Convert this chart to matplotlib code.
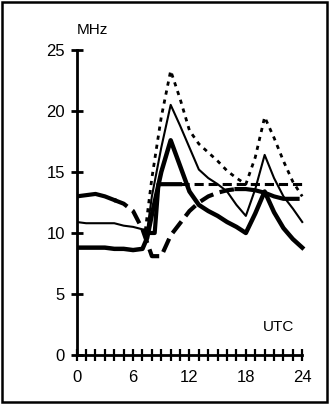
import matplotlib
matplotlib.use("Agg")
import matplotlib.pyplot as plt
from matplotlib.patches import Rectangle

plt.rcParams['font.family'] = ['Liberation Sans', 'DejaVu Sans']

# --- dades llegides del gràfic ---
hores = [0, 1, 2, 3, 4, 5, 6, 7, 7.5, 8, 9, 10, 11, 12, 13, 14, 15, 16,
         17, 18, 19, 20, 21, 22, 23, 24]

# corba gruixuda contínua (la més baixa)
gruixuda = [8.8, 8.8, 8.8, 8.8, 8.7, 8.7, 8.6, 8.7, 9.6, 11.5, 15.0, 17.6,
            15.5, 13.4, 12.3, 11.8, 11.4, 10.9, 10.5, 10.0, 11.6, 13.4,
            11.7, 10.4, 9.5, 8.8]

# corba fina contínua
fina = [10.9, 10.8, 10.8, 10.8, 10.8, 10.6, 10.5, 10.3, 10.2, 13.0, 17.0,
        20.5, 18.8, 17.0, 15.2, 14.5, 14.0, 13.4, 12.3, 11.4, 13.6, 16.4,
        14.5, 13.0, 12.0, 10.9]

# corba puntejada (la més alta)
punts_h = [7.3, 8, 9, 10, 11, 12, 13, 14, 15, 16, 17, 18, 19, 20, 21, 22,
           23, 24]
punts = [10.2, 14.5, 19.5, 23.3, 21.0, 18.4, 17.3, 16.6, 15.9, 15.1, 14.5,
         14.0, 16.2, 19.5, 17.8, 15.9, 14.2, 13.0]

# corba gruixuda discontínua (13 MHz a l'inici)
disc_h = [0, 1, 2, 3, 4, 5, 6, 7, 7.5, 8, 9, 10, 11, 12, 13, 14, 15, 16,
          17, 18, 19, 20, 21, 22, 23, 23.5]
disc = [13.0, 13.1, 13.2, 13.0, 12.7, 12.4, 11.8, 10.3, 9.2, 8.1, 8.1,
        9.8, 10.8, 11.8, 12.5, 13.0, 13.3, 13.5, 13.6, 13.6, 13.5, 13.3,
        13.0, 12.8, 12.8, 12.8]

# esglaó a 14 MHz
esglao_h = [7.4, 8.3, 8.7, 11, 24]
esglao = [10.0, 10.0, 14.0, 14.0, 14.0]

fig = plt.figure(figsize=(3.29, 4.04), dpi=100)
ax = fig.add_axes([0.2331, 0.1213, 0.697, 0.755])

# trams sòlids i discontinus de la corba de 13 MHz
i4 = disc_h.index(4)
i17 = disc_h.index(17)
ax.plot(disc_h[:i4 + 1], disc[:i4 + 1], color="black", lw=3)
ax.plot(disc_h[i4:i17 + 1], disc[i4:i17 + 1], color="black", lw=3,
        linestyle=(0, (3.5, 1.6)))
ax.plot(disc_h[i17:], disc[i17:], color="black", lw=3)

ax.plot(esglao_h[:4], esglao[:4], color="black", lw=3)
ax.plot(esglao_h[3:], esglao[3:], color="black", lw=2.2,
        linestyle=(0, (3, 1.6)))
ax.plot(punts_h, punts, color="black", lw=2, linestyle=(0, (1.5, 1.8)))
ax.plot(hores, fina, color="black", lw=1.5)
ax.plot(hores, gruixuda, color="black", lw=3.2)

ax.set_xlim(0, 24.4)
ax.set_ylim(0, 25)
for s in ["top", "right"]:
    ax.spines[s].set_visible(False)
ax.spines["left"].set_linewidth(2)
ax.spines["bottom"].set_linewidth(2)
ax.spines["left"].set_bounds(0, 25)
ax.spines["bottom"].set_bounds(0, 24)

ax.set_yticks([0, 5, 10, 15, 20, 25])
ax.set_xticks(range(0, 25))
ax.set_xticklabels([str(h) if h % 6 == 0 else "" for h in range(25)])
ax.tick_params(axis="y", direction="inout", length=9, width=2, pad=4,
               labelsize=12)
ax.tick_params(axis="x", direction="inout", length=9, width=1.6, pad=6,
               labelsize=12)

fig.text(0.234, 0.925, "MHz", fontsize=11, ha="left", va="center")
fig.text(0.895, 0.19, "UTC", fontsize=11, ha="right", va="center")

fig.patches.append(Rectangle((0.006, 0.006), 0.988, 0.988, transform=fig.transFigure,
                             fill=False, edgecolor="black", lw=1.8))

fig.savefig("out.png", dpi=100)
